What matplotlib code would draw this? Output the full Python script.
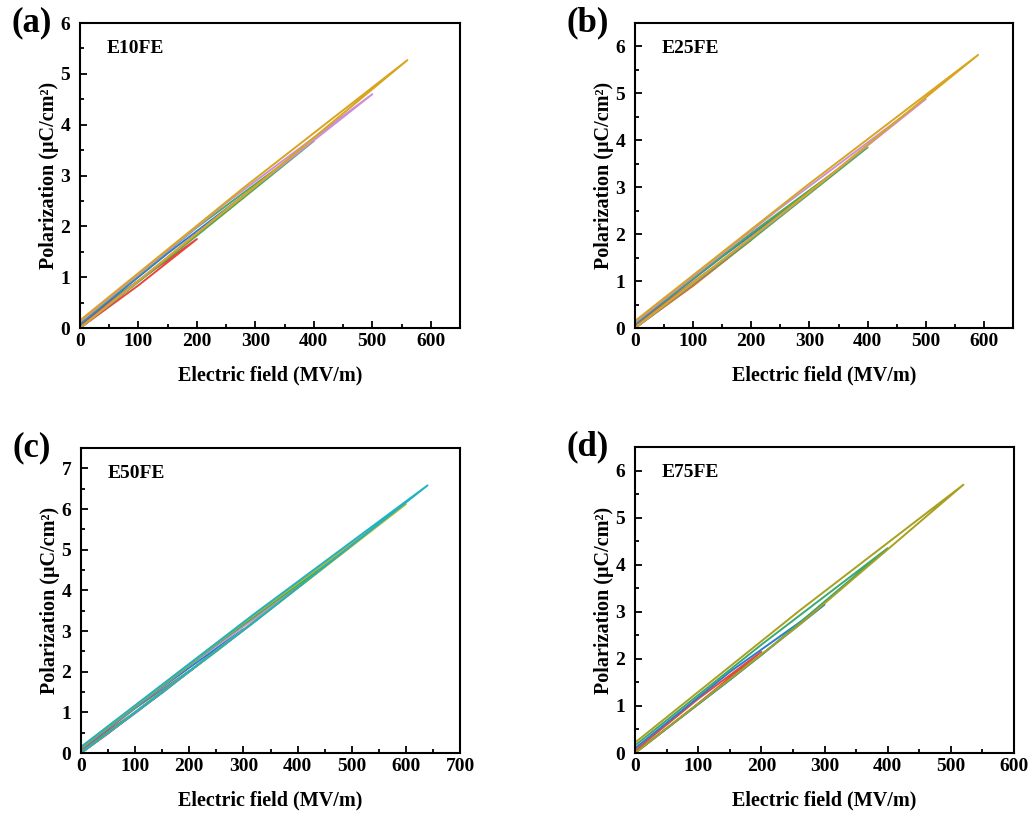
import numpy as np
import matplotlib.pyplot as plt
from matplotlib.ticker import MultipleLocator

plt.rcParams['font.family'] = ['Liberation Serif', 'DejaVu Serif']
plt.rcParams['font.weight'] = 'bold'

# unipolar D-E loops: charge branch out to Emax, discharge branch back to E = 0
e10_E = [[0, 50, 100, 50, 0], [0, 100, 200, 100, 0], [0, 150, 300, 150, 0],
         [0, 200, 400, 200, 0], [0, 250, 500, 250, 0], [0, 280, 560, 280, 0]]
e10_P = [[0, 0.45, 0.93, 0.52, 0.08], [0, 0.84, 1.75, 0.93, 0.05], [0, 1.38, 2.78, 1.47, 0.07],
         [0, 1.82, 3.68, 1.98, 0.10], [0, 2.33, 4.60, 2.46, 0.12], [0, 2.60, 5.27, 2.76, 0.15]]
e10_c = ['#17becf', '#e8453c', '#2a7bd0', '#4daa4d', '#c98fd8', '#d9a520']

e25_E = [[0, 50, 100, 50, 0], [0, 100, 200, 100, 0], [0, 150, 300, 150, 0],
         [0, 200, 400, 200, 0], [0, 250, 500, 250, 0], [0, 295, 590, 295, 0]]
e25_P = [[0, 0.46, 0.95, 0.53, 0.07], [0, 0.90, 1.88, 0.98, 0.06], [0, 1.42, 2.90, 1.52, 0.08],
         [0, 1.88, 3.85, 2.02, 0.10], [0, 2.40, 4.88, 2.56, 0.12], [0, 2.85, 5.82, 3.03, 0.15]]
e25_c = ['#17becf', '#e06a30', '#2a7bd0', '#4daa4d', '#c98fd8', '#d9a520']

e50_E = [[0, 50, 100, 50, 0], [0, 100, 200, 100, 0], [0, 150, 300, 150, 0],
         [0, 200, 400, 200, 0], [0, 250, 500, 250, 0], [0, 300, 600, 300, 0],
         [0, 320, 640, 320, 0]]
e50_P = [[0, 0.48, 1.00, 0.55, 0.06], [0, 0.98, 2.02, 1.10, 0.08], [0, 1.48, 3.05, 1.62, 0.10],
         [0, 2.00, 4.08, 2.15, 0.11], [0, 2.50, 5.10, 2.67, 0.12], [0, 3.02, 6.12, 3.20, 0.14],
         [0, 3.22, 6.58, 3.42, 0.15]]
e50_c = ['#e8453c', '#7f7f7f', '#2a7bd0', '#c98fd8', '#4daa4d', '#b5b530', '#20b2c0']

e75_E = [[0, 100, 200, 100, 0], [0, 150, 300, 150, 0], [0, 200, 400, 200, 0], [0, 260, 520, 260, 0]]
e75_P = [[0, 1.05, 2.15, 1.15, 0.05], [0, 1.55, 3.15, 1.72, 0.10],
         [0, 2.08, 4.35, 2.30, 0.16], [0, 2.72, 5.70, 3.02, 0.22]]
e75_c = ['#e8453c', '#2a7bd0', '#3aa870', '#a8a020']

panels = [
    ('(a)', 'E10FE', e10_E, e10_P, e10_c, 650, 6.0),
    ('(b)', 'E25FE', e25_E, e25_P, e25_c, 650, 6.5),
    ('(c)', 'E50FE', e50_E, e50_P, e50_c, 700, 7.5),
    ('(d)', 'E75FE', e75_E, e75_P, e75_c, 600, 6.5),
]
# axes boxes in figure fractions (left, bottom, width, height)
boxes = [
    (80 / 1033, 1 - 328 / 818, 380 / 1033, 305 / 818),
    (635 / 1033, 1 - 328 / 818, 378 / 1033, 305 / 818),
    (81 / 1033, 1 - 753 / 818, 379 / 1033, 305 / 818),
    (635 / 1033, 1 - 753 / 818, 379 / 1033, 306 / 818),
]

fig = plt.figure(figsize=(10.33, 8.18), dpi=100)

for (letter, name, Es, Ps, cols, xmax, ymax), box in zip(panels, boxes):
    ax = fig.add_axes(box)
    for E, P, c in zip(Es, Ps, cols):
        ax.plot(E, P, color=c, lw=1.4)
    ax.set_xlim(0, xmax)
    ax.set_ylim(0, ymax)
    ax.xaxis.set_major_locator(MultipleLocator(100))
    ax.xaxis.set_minor_locator(MultipleLocator(50))
    ax.yaxis.set_major_locator(MultipleLocator(1))
    ax.yaxis.set_minor_locator(MultipleLocator(0.5))
    ax.tick_params(which='both', direction='in', labelsize=14, width=1.3)
    ax.tick_params(which='major', length=5)
    ax.tick_params(which='minor', length=3)
    ax.tick_params(axis='y', pad=7)
    for lab in ax.get_xticklabels() + ax.get_yticklabels():
        lab.set_fontweight('bold')
    for s in ax.spines.values():
        s.set_linewidth(1.5)
    ax.set_xlabel('Electric field (MV/m)', fontsize=14.5, fontweight='bold', labelpad=11)
    ax.set_ylabel('Polarization (μC/cm²)', fontsize=14.5, fontweight='bold', labelpad=1)
    ax.text(0.07, 0.945, name, transform=ax.transAxes, fontsize=14, fontweight='bold',
            va='top', ha='left')
    ax.text(-0.18, 1.0, letter, transform=ax.transAxes, fontsize=25, fontweight='bold',
            va='center', ha='left')

fig.savefig('out.png', dpi=100)
